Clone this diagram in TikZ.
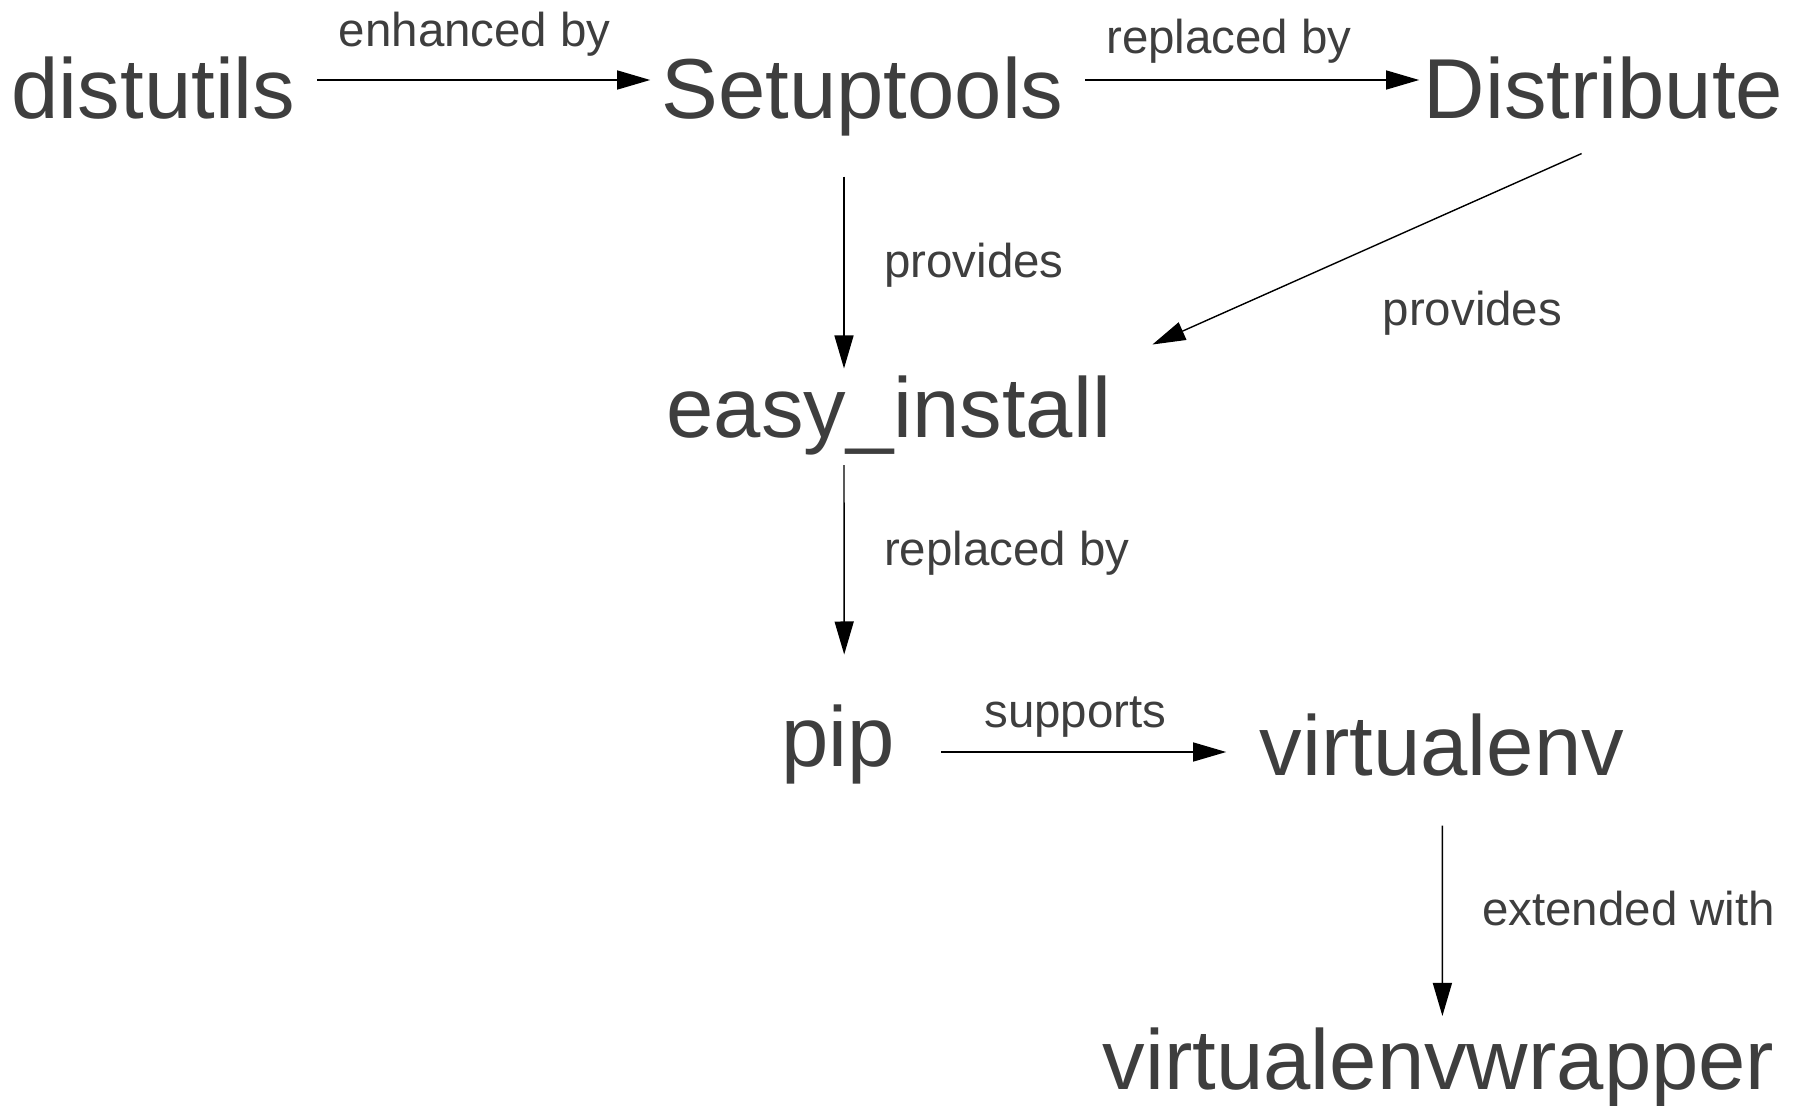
\documentclass[tikz,border=0pt]{standalone}
\usepackage{fontspec}
\setmainfont{Liberation Sans}
\usetikzlibrary{arrows.meta}
\definecolor{txtgray}{RGB}{62,62,62}

\begin{document}
\begin{tikzpicture}[x=0.01cm,y=-0.01cm,
  >={Triangle[length=0.33cm,width=0.19cm]},
  tool node/.style={anchor=base,inner sep=0pt,text=txtgray,
    font=\fontsize{24.2}{29}\selectfont,text height=0.6375cm,text depth=0.1785cm},
  rel node/.style={anchor=base,inner sep=0pt,text=txtgray,
    font=\fontsize{13.5}{16}\selectfont},
  rel/.style={->,line width=0.4pt,black}]

  \useasboundingbox (0,0) rectangle (1796,1106);

  \node[tool node] (dist) at (153.5,118) {distutils};
  \node[tool node] (setup) at (862.5,118) {Setuptools};
  \node[tool node] (distr) at (1603.6,118) {Distribute};
  \node[tool node] (easy) at (888.8,437) {easy\_install};
  \node[tool node] (pip) at (838.4,766) {pip};
  \node[tool node] (venv) at (1442,775) {virtualenv};
  \node[tool node] (wrap) at (1438.6,1089) {virtualenvwrapper};

  \node[rel node] (l1) at (474.8,46) {enhanced by};
  \node[rel node] (l2) at (1229,53) {replaced by};
  \node[rel node] (l3) at (974,277) {provides};
  \node[rel node] (l4) at (1472.4,325) {provides};
  \node[rel node] (l5) at (1006.8,565) {replaced by};
  \node[rel node] (l6) at (1075.5,727) {supports};
  \node[rel node] (l7) at (1628.7,925) {extended with};

  \draw[rel] ([shift={(21,-38)}]dist.base east) -- ([shift={(-10.5,-38)}]setup.base west);
  \draw[rel] ([shift={(21,-38)}]setup.base east) -- ([shift={(-4,-38)}]distr.base west);
  \draw[rel] ([shift={(-18.5,40)}]setup.south) -- ([shift={(-44.8,-4)}]easy.north);
  \draw[rel] ([shift={(-22,17)}]distr.south) -- ([shift={(40.6,-28)}]easy.north east);
  \draw[rel] ([shift={(-44.8,9.5)}]easy.south) -- ([shift={(5.8,-47)}]pip.north);
  \draw[rel] ([shift={(45.6,-14)}]pip.base east) -- ([shift={(-33,-23)}]venv.base west);
  \draw[rel] ([shift={(0.4,32)}]venv.south) -- ([shift={(3.8,-8.5)}]wrap.north);

\end{tikzpicture}
\end{document}
